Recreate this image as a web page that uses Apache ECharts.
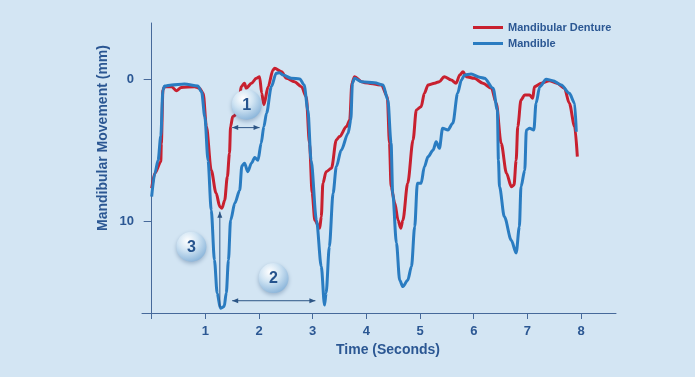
<!DOCTYPE html>
<html>
<head>
<meta charset="utf-8">
<script src="https://cdn.jsdelivr.net/npm/echarts@6/dist/echarts.min.js"></script>
<style>
  html, body { margin: 0; padding: 0; background: #d3e5f3; }
  #chart { width: 695px; height: 377px; }
</style>
</head>
<body>
<div id="chart"></div>
<script>
// * Mandibular movement over time

// ? data
const seriesNames = ['Mandibular Denture', 'Mandible']

const dentureTime = [0.00,0.06,0.17,0.18,0.21,0.24,0.37,0.46,0.55,0.80,0.89,0.96,1.02,1.11,1.20,1.27,1.31,1.36,1.41,1.45,1.47,1.51,1.61,1.67,1.73,1.76,1.86,1.95,2.01,2.05,2.09,2.17,2.26,2.29,2.42,2.51,2.66,2.79,2.88,2.94,2.99,3.04,3.13,3.16,3.19,3.25,3.35,3.44,3.50,3.63,3.69,3.73,3.78,3.91,3.97,4.28,4.39,4.43,4.46,4.53,4.59,4.64,4.68,4.77,4.87,4.93,5.02,5.08,5.15,5.27,5.36,5.45,5.58,5.67,5.74,5.80,5.86,6.01,6.17,6.33,6.42,6.51,6.61,6.70,6.75,6.79,6.82,6.88,6.95,7.04,7.10,7.13,7.26,7.41,7.55,7.69,7.78,7.88,7.93]
const dentureMove = [7.66,6.6,5.8,4.5,0.77,0.54,0.54,0.82,0.6,0.54,0.65,1.0,3.34,6.4,8.0,8.95,9.06,8.5,6.85,5.2,3.34,2.64,2.4,0.54,0.3,0.65,0.3,-0.05,-0.16,1.0,1.8,0.54,-0.63,-0.75,-0.51,-0.05,0.19,0.54,1.24,4.5,8.0,9.9,10.46,9.65,7.3,6.5,6.26,4.27,4.04,3.34,2.87,0.3,-0.16,0.19,0.26,0.42,1.24,4.5,7.55,8.7,9.9,10.46,9.9,7.3,4.27,2.17,1.94,1.0,0.42,0.3,0.19,-0.16,0.07,0.3,-0.28,-0.51,-0.16,-0.05,0.3,0.65,1.7,4.5,6.6,7.55,7.43,5.7,3.34,1.47,1.12,1.12,1.35,0.54,0.3,0.12,0.3,0.65,1.7,3.34,5.44]

const mandibleTime = [0.00,0.06,0.12,0.17,0.21,0.24,0.37,0.61,0.86,0.93,0.99,1.05,1.11,1.17,1.22,1.28,1.35,1.39,1.43,1.47,1.55,1.64,1.68,1.73,1.79,1.86,1.92,1.98,2.04,2.09,2.14,2.23,2.32,2.38,2.45,2.60,2.76,2.84,2.91,2.97,3.07,3.16,3.22,3.25,3.31,3.38,3.44,3.53,3.66,3.71,3.74,3.78,3.91,4.15,4.31,4.40,4.46,4.49,4.56,4.62,4.68,4.77,4.84,4.90,4.95,5.02,5.08,5.15,5.24,5.30,5.36,5.42,5.52,5.61,5.70,5.77,5.83,5.95,6.11,6.20,6.36,6.44,6.46,6.48,6.57,6.70,6.79,6.85,6.88,6.95,6.98,7.04,7.12,7.16,7.23,7.35,7.47,7.63,7.78,7.88,7.91]
const mandibleMove = [8.25,6.6,5.7,4.0,0.77,0.5,0.42,0.35,0.5,0.9,2.64,5.7,9.2,12.7,15.0,16.07,15.95,15.0,12.7,9.9,8.7,7.8,6.1,5.9,6.5,5.9,5.5,5.7,4.5,3.34,2.4,0.54,-0.4,-0.44,-0.28,-0.05,0.0,0.42,2.17,5.7,9.9,13.15,15.84,15.0,11.75,8.0,6.15,5.0,3.8,2.87,0.3,-0.05,0.19,0.26,0.42,1.47,4.5,8.0,11.5,14.1,14.55,14.1,13.15,10.35,7.3,7.3,6.15,5.44,5.0,4.4,4.86,3.46,3.57,3.1,1.0,0.07,-0.28,-0.35,-0.12,-0.05,0.65,2.17,5.7,7.55,9.65,11.3,12.2,10.35,7.55,6.4,3.57,3.46,3.57,1.7,0.54,0.02,0.12,0.42,1.0,1.7,3.7]

const timeTicks = [1, 2, 3, 4, 5, 6, 7, 8]
const moveTicks = [0, 10]

// ? numbered markers and arrows, in data units
const markerLabels = ['1', '2', '3']
const markerTime = [1.77, 2.27, 0.74]
const markerMove = [1.8, 13.95, 11.75]

const arrowFrom = [[1.50, 3.41], [1.27, 16.0], [1.50, 15.54]]
const arrowTo = [[2.01, 3.41], [1.27, 9.3], [3.05, 15.54]]
const arrowBothEnds = [true, false, true]

const zip = (xs, ys) => xs.map((x, i) => [x, ys[i]])

const axisColor = '#46699a'
const textColor = '#2b5793'
const fontFamily = '"Liberation Sans", Arial, sans-serif'

const chart = echarts.init(document.getElementById('chart'))

const option = {
  backgroundColor: '#d3e5f3',
  animation: false,
  grid: {
    left: 142,
    right: 79,
    top: 23,
    bottom: 64,
    outerBoundsMode: 'none'
  },
  legend: {
    orient: 'vertical',
    left: 473,
    top: 22,
    padding: 0,
    itemGap: 5,
    itemWidth: 30,
    itemHeight: 3,
    icon: 'rect',
    data: seriesNames,
    textStyle: {
      color: textColor,
      fontSize: 11,
      fontWeight: 'bold',
      fontFamily: fontFamily
    }
  },
  xAxis: {
    type: 'value',
    min: -0.18,
    max: 8.65,
    axisLine: { onZero: false, lineStyle: { color: axisColor, width: 1 } },
    axisTick: {
      customValues: [0].concat(timeTicks),
      length: 6,
      lineStyle: { color: axisColor }
    },
    axisLabel: {
      customValues: timeTicks,
      margin: 12,
      color: textColor,
      fontSize: 13,
      fontWeight: 'bold',
      fontFamily: fontFamily
    },
    splitLine: { show: false }
  },
  yAxis: {
    type: 'value',
    inverse: true,
    min: -3.92,
    max: 16.4,
    axisLine: { show: true, onZero: true, lineStyle: { color: axisColor, width: 1 } },
    axisTick: {
      show: true,
      customValues: moveTicks,
      length: 8,
      lineStyle: { color: axisColor }
    },
    axisLabel: {
      customValues: moveTicks,
      margin: 8,
      color: textColor,
      fontSize: 13,
      fontWeight: 'bold',
      fontFamily: fontFamily
    },
    splitLine: { show: false }
  },
  series: [
    {
      name: seriesNames[0],
      type: 'line',
      data: zip(dentureTime, dentureMove),
      showSymbol: false,
      smooth: 0.3,
      smoothMonotone: 'x',
      lineStyle: { color: '#c8202f', width: 3 },
      itemStyle: { color: '#c8202f' }
    },
    {
      name: seriesNames[1],
      type: 'line',
      data: zip(mandibleTime, mandibleMove),
      showSymbol: false,
      smooth: 0.3,
      smoothMonotone: 'x',
      lineStyle: { color: '#2a7cc1', width: 3 },
      itemStyle: { color: '#2a7cc1' }
    }
  ]
}

chart.setOption(option)

// ? annotations: convert data units into pixels
const toPx = (p) => chart.convertToPixel({ gridIndex: 0 }, p)

function arrowHead (tip, from) {
  const dx = tip[0] - from[0]
  const dy = tip[1] - from[1]
  const len = Math.sqrt(dx * dx + dy * dy) || 1
  const ux = dx / len
  const uy = dy / len
  const back = 6
  const half = 2.5
  return {
    type: 'polygon',
    z: 100,
    shape: {
      points: [
        tip,
        [tip[0] - ux * back - uy * half, tip[1] - uy * back + ux * half],
        [tip[0] - ux * back + uy * half, tip[1] - uy * back - ux * half]
      ]
    },
    style: { fill: '#2d5686' }
  }
}

const graphics = []

arrowFrom.forEach((a, i) => {
  const p1 = toPx(a)
  const p2 = toPx(arrowTo[i])
  graphics.push({
    type: 'line',
    z: 100,
    shape: { x1: p1[0], y1: p1[1], x2: p2[0], y2: p2[1] },
    style: { stroke: '#2d5686', lineWidth: 1 }
  })
  graphics.push(arrowHead(p2, p1))
  if (arrowBothEnds[i]) graphics.push(arrowHead(p1, p2))
})

markerLabels.forEach((label, i) => {
  const c = toPx([markerTime[i], markerMove[i]])
  graphics.push({
    type: 'circle',
    z: 100,
    shape: { cx: c[0], cy: c[1], r: 15 },
    style: {
      fill: new echarts.graphic.RadialGradient(0.38, 0.3, 0.75, [
        { offset: 0, color: '#ffffff' },
        { offset: 0.45, color: '#d0e4f3' },
        { offset: 1, color: '#88b3d9' }
      ]),
      shadowBlur: 4,
      shadowOffsetY: 2,
      shadowColor: 'rgba(20, 60, 110, 0.3)'
    }
  })
  graphics.push({
    type: 'text',
    z: 101,
    x: c[0],
    y: c[1] + 1,
    style: {
      text: label,
      align: 'center',
      verticalAlign: 'middle',
      fill: '#25538d',
      font: 'bold 16px ' + fontFamily
    }
  })
})

// ? axis titles
graphics.push({
  type: 'text',
  x: 103,
  y: 138,
  rotation: Math.PI / 2,
  style: {
    text: 'Mandibular Movement (mm)',
    align: 'center',
    verticalAlign: 'middle',
    fill: textColor,
    font: 'bold 14px ' + fontFamily
  }
})
graphics.push({
  type: 'text',
  x: 388,
  y: 350,
  style: {
    text: 'Time (Seconds)',
    align: 'center',
    verticalAlign: 'middle',
    fill: textColor,
    font: 'bold 14px ' + fontFamily
  }
})

chart.setOption({ graphic: graphics })
</script>
</body>
</html>
